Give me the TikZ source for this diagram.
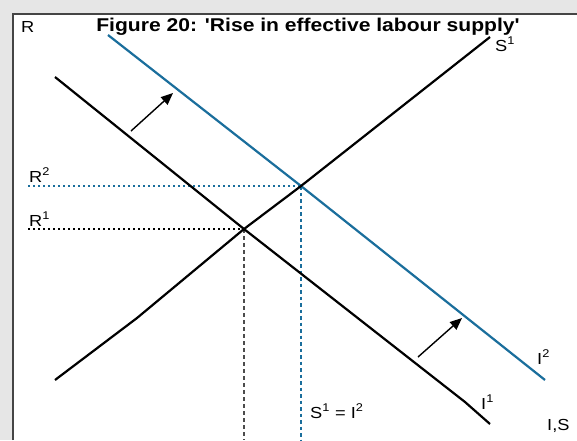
\documentclass[tikz,border=0pt]{standalone}
\usepackage{fontspec}
\setmainfont{Liberation Sans}
\usetikzlibrary{arrows.meta}
\definecolor{curveblue}{HTML}{1A6E9C}
\definecolor{framegray}{HTML}{454545}
\definecolor{bggray}{HTML}{E6E6E6}
\newcommand{\wide}[1]{\scalebox{1.14}[1]{#1}}
\begin{document}
\begin{tikzpicture}[x=1pt,y=-1pt,
  curve/.style={line width=2.2pt, line join=round},
  lab/.style={font=\fontsize{16}{16}\selectfont, inner sep=0pt, anchor=base west},
  dotline/.style={line width=1.5pt, dash pattern=on 2pt off 3pt},
  dashline/.style={line width=1.3pt, dash pattern=on 4pt off 3pt},
  shiftarrow/.style={line width=1.4pt, -{Triangle[length=12pt,width=10pt]}}]
\useasboundingbox (0,0) rectangle (577,440);
\fill[bggray] (0,0) rectangle (577,440);
\fill[white] (13,14) rectangle (577,440);
\draw[framegray, line width=2pt] (12.5,440) -- (12.5,13.5) -- (577,13.5);
% key points
\coordinate (E1) at (244,229);
\coordinate (E2) at (301,186);
\coordinate (Sa) at (55,380);
\coordinate (Sb) at (137,318);
\coordinate (Sc) at (490,37);
\coordinate (Ia) at (55,77);
\coordinate (Ib) at (465,402);
\coordinate (Ic) at (490,424);
\coordinate (Ja) at (108,35);
\coordinate (Jb) at (545,380);
\coordinate (R2a) at (28,186);
\coordinate (R1a) at (28,229);
\coordinate (V1) at (244,440);
\coordinate (V2) at (301,440);
\coordinate (A1a) at (131,131);
\coordinate (A1b) at (173,93);
\coordinate (A2a) at (418,357);
\coordinate (A2b) at (462,318);
% guide lines
\draw[dotline, curveblue] (R2a) -- (E2);
\draw[dotline, black] (R1a) -- (E1);
\draw[dashline, black!70] (E1) -- (V1);
\draw[dashline, curveblue, dash pattern=on 3.5pt off 3pt] (E2) -- (V2);
% curves
\draw[curve, curveblue] (Ja) -- (E2) -- (Jb);
\draw[curve, black] (Ia) -- (E1) -- (Ib) -- (Ic);
\draw[curve, black] (Sa) -- (Sb) -- (E1) -- (E2) -- (Sc);
% shift arrows
\draw[shiftarrow] (A1a) -- (A1b);
\draw[shiftarrow] (A2a) -- (A2b);
% texts
\node[font=\bfseries\fontsize{18.5}{18.5}\selectfont, inner sep=0pt, anchor=base] (title) at (308,31)
  {\wide{Figure 20: \textquotesingle Rise in effective labour supply\textquotesingle}};
\node[lab] (Rax) at (21,32) {\wide{R}};
\node[lab] (Slab) at (495,51) {\wide{S\textsuperscript{1}}};
\node[lab] (R2lab) at (29,182) {\wide{R\textsuperscript{2}}};
\node[lab] (R1lab) at (29,226) {\wide{R\textsuperscript{1}}};
\node[lab] (I2lab) at (537,364) {\wide{I\textsuperscript{2}}};
\node[lab] (I1lab) at (481,409) {\wide{I\textsuperscript{1}}};
\node[lab] (ISlab) at (547,430) {\wide{I,S}};
\node[lab] (eqlab) at (310,418) {\wide{S\textsuperscript{1} = I\textsuperscript{2}}};
\end{tikzpicture}
\end{document}
